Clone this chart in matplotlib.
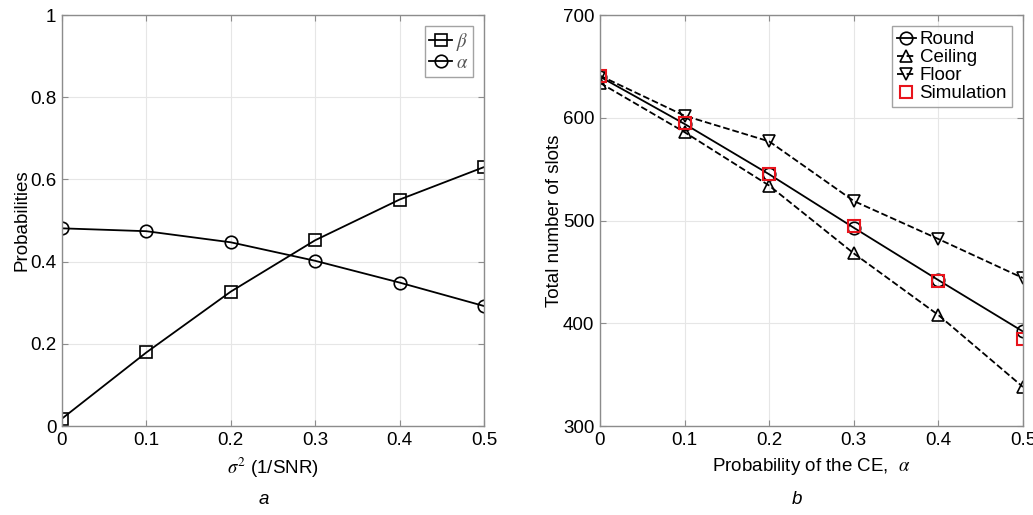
import matplotlib
matplotlib.use("Agg")
import matplotlib.pyplot as plt

plt.rcParams['font.family'] = ['Liberation Sans', 'DejaVu Sans']
plt.rcParams['mathtext.fontset'] = 'stix'

# Left panel data
sigma2 = [0, 0.1, 0.2, 0.3, 0.4, 0.5]
beta = [0.018, 0.179, 0.327, 0.452, 0.551, 0.630]
alpha = [0.481, 0.474, 0.447, 0.402, 0.349, 0.292]

# Right panel data
p_ce = [0, 0.1, 0.2, 0.3, 0.4, 0.5]
round_v = [640, 594, 545, 493, 442, 392]
ceiling_v = [634, 586, 534, 468, 408, 338]
floor_v = [641, 602, 577, 519, 482, 444]
sim_v = [641, 595, 545, 495, 441, 385]

fig = plt.figure(figsize=(10.33, 5.15), dpi=100)
ax1 = fig.add_axes([0.060, 0.1728, 0.4085, 0.798])
ax2 = fig.add_axes([0.5808, 0.1728, 0.4095, 0.798])

fs = 13.5
spine_c = '#8c8c8c'
grid_c = '#e6e6e6'

def style(ax):
    for s in ax.spines.values():
        s.set_color(spine_c)
        s.set_linewidth(1.0)
    ax.grid(True, color=grid_c, linewidth=0.8)
    ax.set_axisbelow(True)
    ax.tick_params(direction='in', length=4, colors=spine_c, labelcolor='black',
                   labelsize=fs, top=True, right=True, pad=4)

mk = dict(markersize=9, markerfacecolor='none', markeredgewidth=1.2, color='black', linewidth=1.3)
ax1.plot(sigma2, beta, marker='s', label=r'$\beta$', **mk)
ax1.plot(sigma2, alpha, marker='o', label=r'$\alpha$', **mk)
ax1.set_xlim(0, 0.5)
ax1.set_ylim(0, 1)
ax1.set_xticks(sigma2)
ax1.set_xticklabels(['0', '0.1', '0.2', '0.3', '0.4', '0.5'])
ax1.set_yticks([0, 0.2, 0.4, 0.6, 0.8, 1])
ax1.set_yticklabels(['0', '0.2', '0.4', '0.6', '0.8', '1'])
ax1.set_xlabel(r'$\sigma^2$ (1/SNR)', fontsize=fs, labelpad=5)
ax1.set_ylabel('Probabilities', fontsize=fs, labelpad=0)
style(ax1)
leg1 = ax1.legend(loc='upper right', fontsize=fs, frameon=True, fancybox=False,
                  handlelength=1.2, handletextpad=0.2, borderpad=0.25, labelspacing=0.1,
                  borderaxespad=0.6)
leg1.get_frame().set_edgecolor(spine_c)
leg1.get_frame().set_linewidth(1.0)
for t in leg1.get_texts():
    t.set_color('#555555')

ax2.plot(p_ce, round_v, marker='o', linestyle='-', label='Round', **mk)
ax2.plot(p_ce, ceiling_v, marker='^', linestyle='--', label='Ceiling', **mk)
ax2.plot(p_ce, floor_v, marker='v', linestyle='--', label='Floor', **mk)
ax2.plot(p_ce, sim_v, marker='s', linestyle='none', markersize=8, markerfacecolor='none',
         markeredgecolor='#e8141c', markeredgewidth=1.5, label='Simulation')
ax2.set_xlim(0, 0.5)
ax2.set_ylim(300, 700)
ax2.set_xticks(p_ce)
ax2.set_xticklabels(['0', '0.1', '0.2', '0.3', '0.4', '0.5'])
ax2.set_yticks([300, 400, 500, 600, 700])
ax2.set_xlabel(r'Probability of the CE,  $\alpha$', fontsize=fs, labelpad=5)
ax2.set_ylabel('Total number of slots', fontsize=fs, labelpad=0)
style(ax2)
leg2 = ax2.legend(loc='upper right', fontsize=fs, frameon=True, fancybox=False,
                  handlelength=1.0, handletextpad=0.2, borderpad=0.25, labelspacing=0.05,
                  borderaxespad=0.6)
leg2.get_frame().set_edgecolor(spine_c)
leg2.get_frame().set_linewidth(1.0)

fig.text(264 / 1033, 1 - 500 / 515, 'a', fontsize=fs, style='italic', ha='center', va='center')
fig.text(797 / 1033, 1 - 500 / 515, 'b', fontsize=fs, style='italic', ha='center', va='center')

fig.savefig('out.png', dpi=100)
